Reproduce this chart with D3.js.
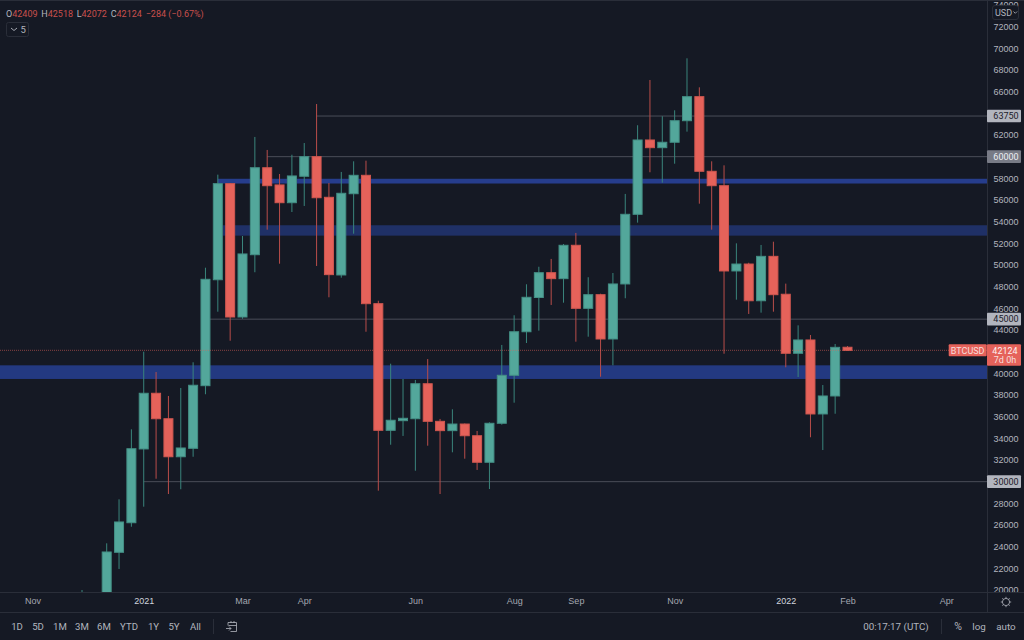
<!DOCTYPE html>
<html>
<head>
<meta charset="utf-8">
<script src="https://cdn.jsdelivr.net/npm/d3@7"></script>
<style>
  html, body { margin: 0; padding: 0; background: #151924; overflow: hidden; }
  svg { display: block; font-family: Roboto, sans-serif; }
  text { fill: #b2b5be; }
</style>
</head>
<body>
<svg id="chart" width="1024" height="640"></svg>
<script>
// weekly BTCUSD candles (first two sit below the visible range)
const opens = [17700,18700,
  19100,23480,26210,33020,38160,35810,32300,33080,38860,48640,
  57510,45200,50950,58980,57390,55750,58190,60000,56250,49080,
  56580,58280,46430,34740,35630,35810,39040,35570,34710,35320,
  34240,31790,35390,39820,43840,47000,49290,48740,51820,46000,
  47260,43170,48250,54680,61540,60830,61330,63320,65540,58650,
  57320,49450,50090,46700,50800,47300,41850,43080,36250,37910,
  42409];
const highs = [20000,19500,
  24310,28370,34830,42000,40120,37910,38650,41020,49750,58340,
  57570,52680,61820,60620,58400,60180,61260,64860,57570,58590,
  59570,59630,46700,40890,39480,39390,41320,35790,36680,35370,
  34680,35480,42620,45360,48220,49840,50560,51940,52960,48870,
  47350,49260,56560,62900,67080,63730,64280,69080,66400,59570,
  59200,52000,50210,51850,52150,48280,44430,43540,38920,42710,
  42518];
const lows = [17300,16300,
  18700,21940,25840,27690,30270,28860,29300,32300,38070,45690,
  43010,45040,49330,53260,50120,54890,55450,49910,47020,48830,
  52890,43840,29170,33410,34220,31010,33320,28860,32710,32120,
  31080,29320,35260,37290,42800,43940,46310,46520,42920,43380,
  39690,40740,46930,53910,58560,57600,59350,62310,55660,53260,
  41810,46800,45480,45600,45690,40560,39660,34100,32920,36270,
  42072];
const closes = [18700,19100,
  23510,26280,33040,38160,35810,32300,33110,38900,48680,57510,
  45200,51020,58980,57320,55750,58220,60000,56210,49110,56620,
  58280,46430,34740,35670,35850,39040,35570,34710,35320,34240,
  31790,35390,39820,43840,47020,49290,48740,51820,46000,47260,
  43170,48250,54680,61540,60830,61330,63320,65540,58650,57320,
  49450,50090,46700,50800,47260,41850,43080,36250,37910,42400,
  42124];

// 30000, 60000 and 64000 are covered by the level badges
const priceTicks = [20000,22000,24000,26000,28000,32000,34000,36000,38000,40000,
  42000,44000,46000,48000,50000,52000,54000,56000,58000,62000,66000,68000,70000,72000,74000];
const timeTickIndex = [-4, 5, 13, 18, 27, 35, 40, 48, 57, 62, 70];
const timeTickLabels = ["Nov", "2021", "Mar", "Apr", "Jun", "Aug", "Sep", "Nov", "2022", "Feb", "Apr"];

const levelPrices = [63750, 60000, 45000, 30000];
const levelStart = [19, 15, 10, 5];
const zoneLow = [57520, 52710, 39480];
const zoneHigh = [57960, 53670, 40740];
const zoneStart = [11, 11.4, -7];

const lastPrice = 42124;
const rangeButtons = ["1D", "5D", "1M", "3M", "6M", "YTD", "1Y", "5Y", "All"];

const upColor = "#53a79b", upEdge = "#448f85", upWick = "#3a857c";
const downColor = "#e5625a", downEdge = "#cf5750", downWick = "#b94d4a";
const axisLine = "#2a2e39";

const paneRight = 987, paneBottom = 592;
const fontSize = "9px";

const svg = d3.select("#chart");
const x = d3.scaleLinear().domain([0, 62]).range([82, 847.5]);
const y = d3.scaleLinear().domain([20000, 72000]).range([590, 26.67]);

const defs = svg.append("defs");
defs.append("clipPath").attr("id", "pane").append("rect")
  .attr("width", paneRight).attr("height", paneBottom);
defs.append("clipPath").attr("id", "scale").append("rect")
  .attr("x", paneRight).attr("width", 37).attr("height", paneBottom);

const pane = svg.append("g").attr("clip-path", "url(#pane)");

// zones
pane.selectAll("rect.zone").data(zoneLow).join("rect")
  .attr("class", "zone")
  .attr("x", (d, i) => x(zoneStart[i]))
  .attr("width", (d, i) => paneRight - x(zoneStart[i]))
  .attr("y", (d, i) => y(zoneHigh[i]))
  .attr("height", (d, i) => y(d) - y(zoneHigh[i]))
  .attr("fill", (d, i) => ["#263d8c", "#1f3066", "#233981"][i]);

// horizontal levels
pane.selectAll("line.level").data(levelPrices).join("line")
  .attr("class", "level")
  .attr("x1", (d, i) => x(levelStart[i]))
  .attr("x2", paneRight)
  .attr("y1", d => y(d))
  .attr("y2", d => y(d))
  .attr("stroke", "#4a4d58")
  .attr("stroke-width", 1);

// candles
const candles = opens.map((o, i) => ({ i, o, h: highs[i], l: lows[i], c: closes[i] }));
const bw = 9;
const candle = pane.selectAll("g.candle").data(candles).join("g").attr("class", "candle");
candle.append("line")
  .attr("x1", d => x(d.i)).attr("x2", d => x(d.i))
  .attr("y1", d => y(d.h)).attr("y2", d => y(d.l))
  .attr("stroke", d => d.c >= d.o ? upWick : downWick)
  .attr("stroke-width", 1);
candle.append("rect")
  .attr("x", d => x(d.i) - bw / 2)
  .attr("width", bw)
  .attr("y", d => y(Math.max(d.o, d.c)))
  .attr("height", d => Math.max(1.5, Math.abs(y(d.o) - y(d.c))))
  .attr("fill", d => d.c >= d.o ? upColor : downColor)
  .attr("stroke", d => d.c >= d.o ? upEdge : downEdge)
  .attr("stroke-width", 1);

// last price line
pane.append("line")
  .attr("x1", 0).attr("x2", paneRight)
  .attr("y1", y(lastPrice)).attr("y2", y(lastPrice))
  .attr("stroke", "#e5625a").attr("stroke-opacity", 0.55)
  .attr("stroke-dasharray", "1 1");

// frame
const rule = (x1, y1, x2, y2) => svg.append("line")
  .attr("x1", x1).attr("y1", y1).attr("x2", x2).attr("y2", y2)
  .attr("stroke", axisLine);
rule(0, 0.5, 1024, 0.5);
rule(paneRight + 0.5, 0, paneRight + 0.5, 612);
rule(0, paneBottom + 0.5, 1024, paneBottom + 0.5);
rule(0, 612.5, 1024, 612.5);

// price axis
const priceAxis = svg.append("g").attr("clip-path", "url(#scale)").append("g")
  .attr("transform", "translate(1006,0)")
  .call(d3.axisRight(y).tickValues(priceTicks).tickSize(0).tickFormat(d3.format("d")));
priceAxis.select(".domain").remove();
priceAxis.selectAll("text")
  .attr("x", 0).attr("text-anchor", "middle")
  .style("font-size", fontSize).style("fill", "#b2b5be");

// time axis
const timeAxis = svg.append("g")
  .attr("transform", "translate(0,598)")
  .call(d3.axisBottom(x).tickValues(timeTickIndex).tickSize(0)
    .tickFormat((d, i) => timeTickLabels[i]));
timeAxis.select(".domain").remove();
timeAxis.selectAll("text")
  .attr("y", 0).attr("dy", "0.71em")
  .style("font-size", fontSize)
  .style("fill", (d, i) => /^\d/.test(timeTickLabels[i]) ? "#d1d4dc" : "#a4a7b0");

// level badges on the price scale
const badge = svg.selectAll("g.badge").data(levelPrices).join("g").attr("class", "badge")
  .attr("transform", d => `translate(${paneRight},${y(d)})`);
badge.append("rect")
  .attr("x", 0).attr("y", -6.3).attr("width", 34).attr("height", 12.6).attr("rx", 1)
  .attr("fill", d => d === 60000 ? "#787b86" : "#b2b5be");
badge.append("text")
  .attr("x", 19).attr("y", 3.2)
  .attr("text-anchor", "middle")
  .style("font-size", fontSize)
  .style("fill", d => d === 60000 ? "#eceef2" : "#1c202b")
  .text(d => d);

// last price badges
const ly = y(lastPrice);
svg.append("rect").attr("x", 948.7).attr("y", ly - 6).attr("width", 38).attr("height", 12)
  .attr("rx", 1).attr("fill", "#e5625a");
svg.append("text").attr("x", 967.7).attr("y", ly + 3.2).attr("text-anchor", "middle")
  .style("font-size", fontSize).style("fill", "#f7dedc").text("BTCUSD");
svg.append("rect").attr("x", paneRight).attr("y", ly - 6).attr("width", 34).attr("height", 21.5)
  .attr("rx", 1).attr("fill", "#e5625a");
svg.append("text").attr("x", 1005).attr("y", ly + 3.2).attr("text-anchor", "middle")
  .style("font-size", fontSize).style("fill", "#fdf1f0").text(lastPrice);
svg.append("text").attr("x", 1005).attr("y", ly + 13).attr("text-anchor", "middle")
  .style("font-size", fontSize).style("fill", "#f7dedc").text("7d 0h");

// currency button
svg.append("rect").attr("x", 992.5).attr("y", 5.5).attr("width", 26).attr("height", 14).attr("rx", 2.5)
  .attr("fill", "#151924").attr("stroke", axisLine);
svg.append("text").attr("x", 995).attr("y", 15.5)
  .style("font-size", fontSize).text("USD");
svg.append("path").attr("d", "M1013.5 11.5l1.8 1.8 1.8-1.8").attr("fill", "none").attr("stroke", "#b2b5be").attr("stroke-width", 0.8);

// ohlc legend
const legend = [
  ["O", "42409", 6], ["H", "42518", 41.3], ["L", "42072", 76.7], ["C", "42124", 110.7]
];
legend.forEach(([k, v, px]) => {
  const t = svg.append("text").attr("x", px).attr("y", 17).style("font-size", "9px");
  t.append("tspan").style("fill", "#b2b5be").text(k);
  t.append("tspan").style("fill", "#c9504c").text(v);
});
svg.append("text").attr("x", 145.7).attr("y", 17).style("font-size", "9px")
  .style("fill", "#c9504c").text("\u2212284 (\u22120.67%)");

svg.append("rect").attr("x", 6.5).attr("y", 22.5).attr("width", 22).attr("height", 14).attr("rx", 2)
  .attr("fill", "none").attr("stroke", axisLine);
svg.append("path").attr("d", "M11 28l3 2.5 3-2.5").attr("fill", "none").attr("stroke", "#b2b5be").attr("stroke-width", 0.9);
svg.append("text").attr("x", 20.5).attr("y", 33).style("font-size", "9.5px").text("5");

// bottom toolbar
const buttonCenters = [17, 38, 60, 82, 104, 129, 153.5, 174, 195.5];
svg.selectAll("text.range").data(rangeButtons).join("text")
  .attr("class", "range")
  .attr("x", (d, i) => buttonCenters[i]).attr("y", 630)
  .attr("text-anchor", "middle")
  .style("font-size", "9.6px")
  .style("fill", "#b2b5be")
  .text(d => d);
rule(213.5, 619, 213.5, 634);
rule(941.5, 619, 941.5, 634);

const footerText = (px, s, size) => svg.append("text")
  .attr("x", px).attr("y", 630).attr("text-anchor", "middle")
  .style("font-size", size + "px").text(s);
footerText(896, "00:17:17 (UTC)", 9.8);
footerText(958, "%", 10.5);
footerText(979, "log", 9.8);
footerText(1006, "auto", 9.8);

// go-to-date icon
svg.append("path")
  .attr("d", "M228 622.5h8.5v9h-6M228 622.5v3M236.5 625.5h-8M231 621v2M234 621v2M226 628.5h5M229 626.5l2 2-2 2")
  .attr("fill", "none").attr("stroke", "#b2b5be").attr("stroke-width", 0.8);

// settings icon
const gear = svg.append("g").attr("transform", "translate(1006,602)")
  .attr("fill", "none").attr("stroke", "#b2b5be").attr("stroke-width", 0.8);
gear.append("circle").attr("r", 3.6);
d3.range(8).forEach(k => {
  const a = k * Math.PI / 4;
  gear.append("line")
    .attr("x1", 3.6 * Math.cos(a)).attr("y1", 3.6 * Math.sin(a))
    .attr("x2", 5.2 * Math.cos(a)).attr("y2", 5.2 * Math.sin(a));
});
</script>
</body>
</html>
